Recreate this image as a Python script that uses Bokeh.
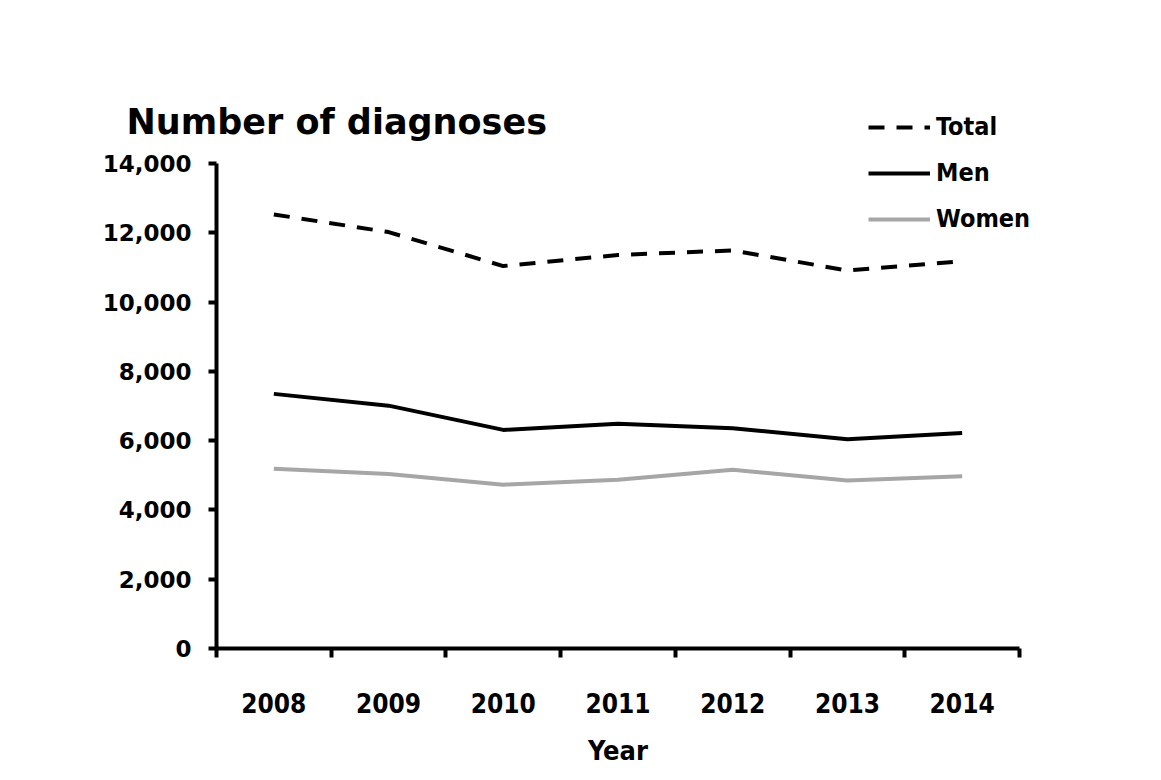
from bokeh.plotting import figure
from bokeh.models import (Range1d, FixedTicker, NumeralTickFormatter, Legend,
                          LegendItem, Label, ColumnDataSource)
from bokeh.embed import file_html
from bokeh.resources import INLINE

years = ["2008", "2009", "2010", "2011", "2012", "2013", "2014"]
total = [12530, 12020, 11040, 11360, 11490, 10910, 11180]
men = [7350, 7010, 6310, 6490, 6360, 6040, 6220]
women = [5190, 5040, 4730, 4870, 5160, 4850, 4970]
y_ticks = [0, 2000, 4000, 6000, 8000, 10000, 12000, 14000]
Y_MAX = 14000

n = len(years)
xs = [i + 0.5 for i in range(n)]
bounds = list(range(n + 1))

src = ColumnDataSource(dict(x=xs, total=total, men=men, women=women))

# Layout: the frame fills the whole canvas; the axes are pinned at 0.
W, H = 1150, 770
AX_L, AX_R, AX_T, AX_B = 216, 1019, 163, 648   # pixel box of the axes
ux = (AX_R - AX_L) / n
uy = Y_MAX / (AX_B - AX_T)
x_range = Range1d(-AX_L / ux, n + (W - AX_R) / ux)
y_range = Range1d(-(H - AX_B) * uy, Y_MAX + AX_T * uy)

p = figure(width=W, height=H, output_backend="svg", toolbar_location=None,
           x_range=x_range, y_range=y_range, min_border=0)
p.outline_line_color = None
p.xgrid.visible = False
p.ygrid.visible = False
p.background_fill_color = "white"
p.border_fill_color = "white"

COND = "DejaVu Sans Condensed, DejaVu Sans"

r_total = p.line("x", "total", source=src, line_color="black", line_width=4,
                 line_dash="16 12")
r_men = p.line("x", "men", source=src, line_color="black", line_width=4)
r_women = p.line("x", "women", source=src, line_color="#a6a6a6", line_width=4)

# x axis: labels at category centres, ticks at boundaries
xa = p.xaxis[0]
xa.fixed_location = 0
xa.bounds = (0, n)
xa.ticker = FixedTicker(ticks=xs, minor_ticks=bounds)
xa.major_label_overrides = {x: y for x, y in zip(xs, years)}
xa.major_tick_out = 0
xa.major_tick_in = 0
xa.minor_tick_out = 9
xa.minor_tick_in = 0
xa.minor_tick_line_width = 4
xa.minor_tick_line_color = "black"
xa.axis_line_width = 4
xa.axis_line_color = "black"
xa.major_label_text_font = COND
xa.major_label_text_font_style = "bold"
xa.major_label_text_font_size = "26px"
xa.major_label_text_color = "black"
xa.major_label_standoff = 35
xa.axis_label = "Year"
xa.axis_label_text_font = COND
xa.axis_label_text_font_style = "bold"
xa.axis_label_text_font_size = "27px"
xa.axis_label_text_color = "black"
xa.axis_label_standoff = 19

ya = p.yaxis[0]
ya.fixed_location = 0
ya.bounds = (0, Y_MAX)
ya.ticker = FixedTicker(ticks=y_ticks, minor_ticks=[])
ya.formatter = NumeralTickFormatter(format="0,0")
ya.major_tick_out = 8
ya.major_tick_in = 0
ya.major_tick_line_width = 4
ya.major_tick_line_color = "black"
ya.axis_line_width = 4
ya.axis_line_color = "black"
ya.major_label_text_font = "DejaVu Sans"
ya.major_label_text_font_style = "bold"
ya.major_label_text_font_size = "23px"
ya.major_label_text_color = "black"
ya.major_label_standoff = 17

title = Label(x=(126 - AX_L) / ux, y=(AX_B - 121) * uy,
              text="Number of diagnoses",
              text_font="DejaVu Sans", text_font_style="bold",
              text_font_size="35px", text_color="black",
              text_baseline="alphabetic", text_align="left")
p.add_layout(title)

legend = Legend(items=[LegendItem(label="Total", renderers=[r_total]),
                       LegendItem(label="Men", renderers=[r_men]),
                       LegendItem(label="Women", renderers=[r_women])],
                location=(868, H - 233), orientation="vertical",
                glyph_width=62, glyph_height=20, label_height=20,
                label_standoff=6, spacing=17, padding=0, margin=0,
                border_line_color=None, background_fill_alpha=0,
                label_text_font=COND, label_text_font_style="bold",
                label_text_font_size="25px", label_text_color="black")
p.add_layout(legend, "center")

open("out.html", "w").write(file_html(p, INLINE))
